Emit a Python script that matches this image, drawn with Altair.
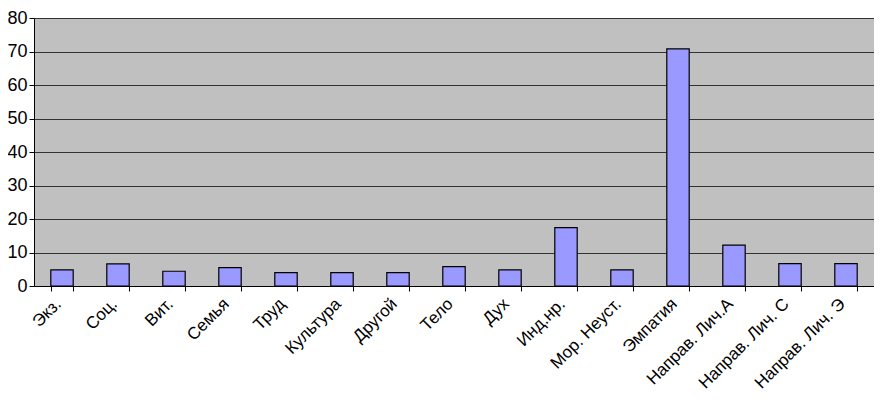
import altair as alt
import pandas as pd

categories = ["Экз.", "Соц.", "Вит.", "Семья", "Труд", "Культура", "Другой", "Тело", "Дух",
              "Инд.нр.", "Мор. Неуст.", "Эмпатия", "Направ. Лич.А", "Направ. Лич. С", "Направ. Лич. Э"]
values = [4.8, 6.6, 4.4, 5.5, 4.0, 4.0, 4.0, 5.8, 4.8, 17.4, 4.8, 70.8, 12.2, 6.7, 6.7]

df = pd.DataFrame({"cat": categories, "val": values})

chart = alt.Chart(df).mark_bar(
    color="#9999FF", stroke="#000000", strokeWidth=1.2
).encode(
    x=alt.X("cat:N", sort=categories, title=None,
            scale=alt.Scale(paddingInner=0.6, paddingOuter=0.3),
            axis=alt.Axis(labelAngle=-45, labelAlign="right", labelBaseline="middle",
                          labelFont="Liberation Sans", labelFontSize=17, labelColor="#000000",
                          labelPadding=10, labelOffset=-4, tickColor="#000000", tickSize=5,
                          tickBand="extent", bandPosition=0, domainColor="#000000", grid=False,
                          labelOverlap=False)),
    y=alt.Y("val:Q", title=None,
            scale=alt.Scale(domain=[0, 80], nice=False),
            axis=alt.Axis(values=[0, 10, 20, 30, 40, 50, 60, 70, 80],
                          labelFont="Liberation Sans", labelFontSize=18, labelColor="#000000",
                          tickColor="#000000", tickSize=5, labelPadding=2,
                          domainColor="#000000", gridColor="#333333", gridWidth=1, grid=True))
).properties(
    width=840, height=268,
    autosize=alt.AutoSizeParams(type="none"),
    padding={"left": 26, "top": 10, "right": 0, "bottom": 112}
).configure_view(
    fill="#C0C0C0", stroke=None
)

chart.save("out.html", embed_options={"renderer": "svg", "actions": False})
